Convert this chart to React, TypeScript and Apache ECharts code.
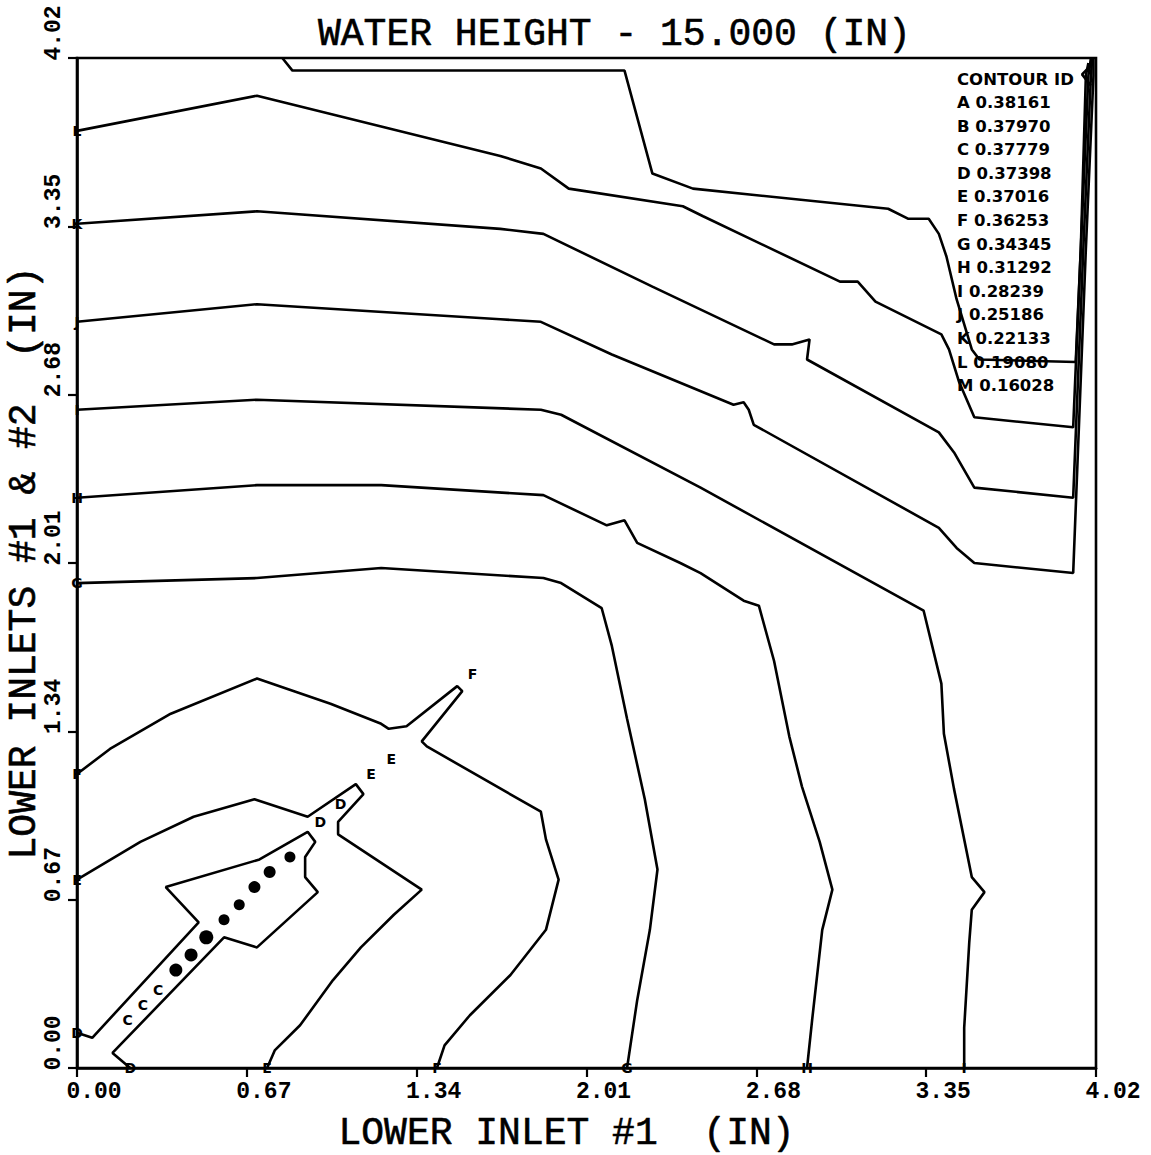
import { useEffect, useRef } from "react";
import * as echarts from "echarts";

// Axis range (inches) and tick spacing
const AXIS_MIN = 0;
const AXIS_MAX = 4.02;
const AXIS_STEP = 0.67;

const titleText = "WATER HEIGHT - 15.000 (IN)";
const xAxisTitle = "LOWER INLET #1  (IN)";
const yAxisTitle = "LOWER INLETS #1 & #2  (IN)";

// Contour identifiers and their water-height levels
const contourIds = ["A", "B", "C", "D", "E", "F", "G", "H", "I", "J", "K", "L", "M"];
const contourLevels = [
  0.38161, 0.3797, 0.37779, 0.37398, 0.37016, 0.36253, 0.34345, 0.31292, 0.28239, 0.25186,
  0.22133, 0.1908, 0.16028,
];

// Contour polylines, [x (in), y (in)]
const contourD = [
  [0, 0.14], [0.06, 0.12], [0.48, 0.58], [0.35, 0.72], [0.72, 0.83], [0.91, 0.94],
  [0.94, 0.9], [0.9, 0.84], [0.9, 0.76], [0.95, 0.7], [0.71, 0.48], [0.58, 0.52],
  [0.14, 0.06], [0.21, 0],
];
const contourE = [
  [0, 0.75], [0.25, 0.9], [0.46, 1.0], [0.7, 1.07], [0.91, 1.0], [1.1, 1.13], [1.13, 1.09],
  [1.03, 0.98], [1.03, 0.93], [1.36, 0.71], [1.25, 0.61], [1.12, 0.48], [1.01, 0.35],
  [0.88, 0.17], [0.78, 0.07], [0.75, 0],
];
const contourF = [
  [0, 1.17], [0.13, 1.27], [0.37, 1.41], [0.71, 1.55], [1.0, 1.45], [1.2, 1.37], [1.23, 1.35],
  [1.3, 1.36], [1.5, 1.52], [1.52, 1.5], [1.36, 1.3], [1.38, 1.28], [1.83, 1.02], [1.85, 0.91],
  [1.9, 0.75], [1.85, 0.55], [1.71, 0.37], [1.55, 0.21], [1.45, 0.09], [1.42, 0],
];
const contourG = [
  [0, 1.93], [0.71, 1.95], [1.2, 1.99], [1.84, 1.95], [1.91, 1.93], [2.07, 1.83], [2.11, 1.68],
  [2.17, 1.39], [2.24, 1.07], [2.29, 0.79], [2.26, 0.55], [2.21, 0.27], [2.17, 0],
];
const contourH = [
  [0, 2.27], [0.71, 2.32], [1.2, 2.32], [1.84, 2.28], [2.09, 2.16], [2.16, 2.18], [2.21, 2.09],
  [2.38, 2.01], [2.46, 1.97], [2.63, 1.86], [2.69, 1.84], [2.75, 1.62], [2.81, 1.32],
  [2.86, 1.12], [2.93, 0.9], [2.98, 0.71], [2.94, 0.55], [2.9, 0.19], [2.88, 0],
];
const contourI = [
  [0, 2.62], [0.71, 2.66], [1.83, 2.62], [1.91, 2.6], [2.46, 2.31], [3.34, 1.82], [3.41, 1.53],
  [3.42, 1.33], [3.46, 1.11], [3.53, 0.76], [3.58, 0.7], [3.53, 0.63], [3.52, 0.5],
  [3.5, 0.16], [3.5, 0],
];
const contourJ = [
  [0, 2.97], [0.71, 3.04], [1.67, 2.98], [1.83, 2.97], [2.11, 2.84], [2.59, 2.64], [2.63, 2.65],
  [2.65, 2.62], [2.67, 2.56], [3.4, 2.15], [3.47, 2.07], [3.54, 2.01], [3.93, 1.97],
  [3.98, 3.26], [4.01, 3.95], [4.01, 4.02],
];
const contourK = [
  [0, 3.36], [0.71, 3.41], [1.67, 3.34], [1.84, 3.32], [2.27, 3.11], [2.75, 2.88], [2.82, 2.88],
  [2.89, 2.9], [2.88, 2.82], [3.4, 2.53], [3.46, 2.45], [3.54, 2.31], [3.93, 2.27],
  [3.97, 3.26], [4.0, 3.95], [4.005, 4.02],
];
const contourL = [
  [0, 3.73], [0.71, 3.87], [1.67, 3.63], [1.83, 3.58], [1.94, 3.5], [2.39, 3.43], [2.47, 3.39],
  [3.01, 3.13], [3.08, 3.13], [3.15, 3.05], [3.41, 2.92], [3.44, 2.86], [3.48, 2.73],
  [3.54, 2.59], [3.93, 2.55], [3.96, 3.26], [3.99, 3.95], [4.0, 4.02],
];
const contourM = [
  [0.81, 4.02], [0.85, 3.97], [2.16, 3.97], [2.27, 3.56], [2.43, 3.5], [3.2, 3.42], [3.28, 3.38],
  [3.36, 3.38], [3.4, 3.32], [3.43, 3.23], [3.47, 3.06], [3.53, 2.86], [3.56, 2.82],
  [3.94, 2.81], [3.96, 3.26], [3.98, 3.95], [3.99, 4.0],
];
// small closed loop in the upper right corner
const cornerLoop = [[4.0, 3.99], [3.965, 3.955], [4.0, 3.91]];

// Contour-ID letters where lines meet the axes or end inside the field
const edgeLabels = [
  { id: "D", x: 0, y: 0.14 }, { id: "E", x: 0, y: 0.75 }, { id: "F", x: 0, y: 1.17 },
  { id: "G", x: 0, y: 1.93 }, { id: "H", x: 0, y: 2.27 }, { id: "I", x: 0, y: 2.62 },
  { id: "J", x: 0, y: 2.97 }, { id: "K", x: 0, y: 3.36 }, { id: "L", x: 0, y: 3.73 },
  { id: "D", x: 0.21, y: 0 }, { id: "E", x: 0.75, y: 0 }, { id: "F", x: 1.42, y: 0 },
  { id: "G", x: 2.17, y: 0 }, { id: "H", x: 2.88, y: 0 }, { id: "I", x: 3.5, y: 0 },
  { id: "D", x: 0.96, y: 0.98 }, { id: "D", x: 1.04, y: 1.05 }, { id: "E", x: 1.16, y: 1.17 },
  { id: "E", x: 1.24, y: 1.23 }, { id: "F", x: 1.56, y: 1.57 },
  { id: "C", x: 0.2, y: 0.19 }, { id: "C", x: 0.26, y: 0.25 }, { id: "C", x: 0.32, y: 0.31 },
];

// Tiny closed contours along the diagonal ridge, drawn as dots
const ridgeX = [0.39, 0.45, 0.51, 0.58, 0.64, 0.7, 0.76, 0.84];
const ridgeY = [0.39, 0.45, 0.52, 0.59, 0.65, 0.72, 0.78, 0.84];
const ridgeSize = [13, 13, 14, 11, 11, 12, 12, 11];

const MONO = "'Liberation Mono', 'DejaVu Sans Mono', monospace";
const BOLD_SANS = "'DejaVu Sans', 'Noto Sans', sans-serif";

export default function App() {
  const ref = useRef<HTMLDivElement>(null);

  useEffect(() => {
    if (!ref.current) return;
    const chart = echarts.init(ref.current, undefined, { renderer: "svg" });

    const contours: [string, number[][]][] = [
      ["D", contourD], ["E", contourE], ["F", contourF], ["G", contourG], ["H", contourH],
      ["I", contourI], ["J", contourJ], ["K", contourK], ["L", contourL], ["M", contourM],
      ["corner", cornerLoop],
    ];

    const lineSeries = contours.map(([name, pts]) => ({
      name,
      type: "line" as const,
      data: pts,
      showSymbol: false,
      symbol: "none",
      silent: true,
      lineStyle: { color: "#000", width: 2.6 },
      z: 3,
    }));

    const legendFont = `bold 16.5px ${BOLD_SANS}`;
    const legendTexts: any[] = [
      {
        type: "text",
        left: 957,
        top: 71,
        style: { text: "CONTOUR ID", font: legendFont, fill: "#000" },
      },
      ...contourIds.map((id, i) => ({
        type: "text",
        left: 957,
        top: 94 + i * 23.6,
        style: {
          text: `${id} ${contourLevels[i].toFixed(5)}`,
          font: legendFont,
          fill: "#000",
        },
      })),
    ];

    const axisCommon = {
      type: "value" as const,
      min: AXIS_MIN,
      max: AXIS_MAX,
      interval: AXIS_STEP,
      splitLine: { show: false },
      axisLine: { show: true, lineStyle: { color: "#000", width: 2.6 } },
      axisTick: { show: true, inside: false, length: 9, lineStyle: { color: "#000", width: 2.2 } },
      nameLocation: "middle" as const,
      nameMoveOverlap: false,
    };

    const tickLabelStyle = {
      show: true,
      showMinLabel: true,
      showMaxLabel: true,
      margin: 12,
      formatter: (v: number) => v.toFixed(2),
      fontFamily: MONO,
      fontWeight: "bold" as const,
      fontSize: 23,
      color: "#000",
    };

    const nameStyle = {
      fontFamily: MONO,
      fontSize: 38,
      color: "#000",
      textBorderColor: "#000",
      textBorderWidth: 0.6,
    };

    chart.setOption({
      animation: false,
      backgroundColor: "#fff",
      title: {
        text: titleText,
        left: 313,
        top: 10,
        textStyle: { ...nameStyle, fontWeight: "normal" },
      },
      grid: {
        left: 77,
        right: 55,
        top: 58,
        bottom: 87,
        containLabel: false,
        outerBoundsMode: "none",
        show: true,
        borderColor: "#000",
        borderWidth: 2.6,
        backgroundColor: "transparent",
      },
      xAxis: {
        ...axisCommon,
        name: xAxisTitle,
        nameGap: 46,
        nameTextStyle: { ...nameStyle, padding: [0, 40, 0, 0] },
        axisLabel: { ...tickLabelStyle, padding: [0, 0, 0, 34] },
      },
      yAxis: {
        ...axisCommon,
        name: yAxisTitle,
        nameGap: 34,
        nameRotate: 90,
        nameTextStyle: nameStyle,
        axisLabel: { ...tickLabelStyle, rotate: 90, padding: [0, 0, 0, 50] },
      },
      graphic: legendTexts,
      series: [
        ...lineSeries,
        {
          name: "ridge",
          type: "scatter",
          data: ridgeX.map((x, i) => [x, ridgeY[i], ridgeSize[i]]),
          symbol: "circle",
          symbolSize: (d: number[]) => d[2],
          itemStyle: { color: "#000", opacity: 1 },
          silent: true,
          z: 4,
        },
        {
          name: "ids",
          type: "scatter",
          data: edgeLabels.map((p) => ({ value: [p.x, p.y], name: p.id })),
          symbolSize: 0,
          silent: true,
          label: {
            show: true,
            position: "inside",
            formatter: (p: any) => p.name,
            fontFamily: BOLD_SANS,
            fontWeight: "bold",
            fontSize: 14,
            color: "#000",
            opacity: 1,
          },
          z: 5,
        },
      ],
    });

    return () => chart.dispose();
  }, []);

  return (
    <div
      ref={ref}
      style={{ position: "absolute", left: 0, top: 0, width: 1151, height: 1155, background: "#fff" }}
    />
  );
}
